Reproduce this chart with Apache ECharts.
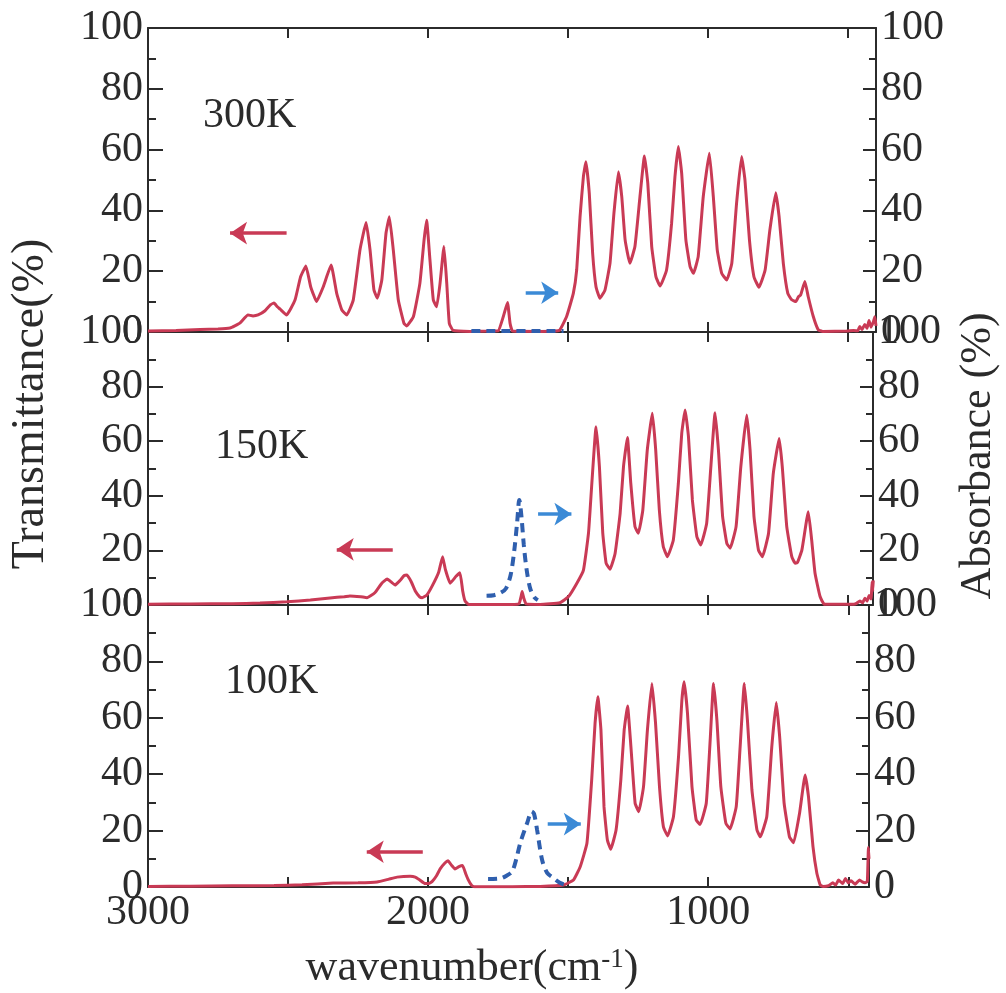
<!DOCTYPE html>
<html>
<head>
<meta charset="utf-8">
<script src="https://cdn.jsdelivr.net/npm/echarts@6/dist/echarts.min.js"></script>
<style>
    html, body { margin: 0; padding: 0; background: #fff; }
    #spectra { width: 1006px; height: 993px; }
</style>
</head>
<body>
<div id="spectra"></div>
<script>
// 温度标签
var temps = ['300K', '150K', '100K'];

// x 轴刻度（wavenumber）
var xTicks = [3000, 2500, 2000, 1500, 1000, 500];
var xTickLabels = [3000, 2000, 1000];
var yTicks = [0, 20, 40, 60, 80, 100];

// 300K 红线 [wavenumber, %]
var red300 = [
    [3000, 0.3], [2900, 0.5], [2814, 0.8], [2750, 1.0], [2707, 1.3], [2690, 2.0], [2671, 3.0], [2643, 5.6],
    [2625, 5.3], [2607, 5.6], [2582, 7.0], [2562, 9.0], [2550, 9.5], [2538, 8.3], [2528, 7.5], [2505, 5.6],
    [2475, 10.5], [2455, 18.2], [2436, 21.7], [2419, 14.9], [2398, 10.0], [2374, 14.9], [2346, 22.0], [2326, 12.7],
    [2308, 7.3], [2290, 5.6], [2267, 10.5], [2243, 27.0], [2221, 36.0], [2207, 27.0], [2193, 13.8], [2181, 11.1],
    [2165, 17.1], [2150, 32.5], [2138, 37.9], [2124, 27.0], [2106, 10.5], [2086, 2.9], [2076, 2.0], [2052, 5.1],
    [2029, 16.0], [2014, 30.3], [2005, 36.8], [1993, 23.7], [1981, 10.5], [1969, 8.3], [1957, 16.0], [1943, 28.1],
    [1933, 16.0], [1924, 2.9], [1910, 0.5], [1850, 0.2], [1780, 0.3], [1749, 0.4], [1731, 5.1], [1716, 9.7],
    [1707, 2.9], [1698, 0.3], [1600, 0.2], [1545, 0.3],
    [1529, 0.7], [1505, 5.1], [1481, 12.7], [1469, 20.4], [1457, 37.9], [1445, 51.1], [1436, 56.0], [1424, 45.6],
    [1412, 25.9], [1400, 14.9], [1386, 11.1], [1368, 13.8], [1350, 22.6], [1336, 39.0], [1320, 52.7], [1308, 44.5],
    [1296, 30.3], [1279, 22.6], [1261, 28.1], [1243, 44.5], [1227, 57.9], [1215, 48.9], [1201, 28.1], [1186, 18.2],
    [1171, 15.1], [1148, 20.4], [1130, 35.8], [1118, 51.1], [1106, 61.0], [1094, 52.2], [1079, 30.3], [1064, 21.5],
    [1052, 19.3], [1035, 24.8], [1017, 44.5], [995, 58.8], [981, 44.5], [967, 27.0], [951, 19.3], [933, 17.1],
    [915, 22.6], [898, 42.3], [880, 57.7], [868, 50.0], [852, 30.3], [836, 18.2], [818, 14.7], [796, 20.4],
    [779, 33.6], [758, 45.8], [746, 37.9], [731, 22.6], [715, 12.7], [701, 10.6], [686, 10.0], [677, 11.6],
    [669, 12.2], [654, 16.6], [642, 11.6], [624, 5.1], [606, 0.7], [590, 0.2],
    [505, 0.3], [480, 0.5], [465, 0.4], [458, 1.8], [450, 0.8], [440, 2.5], [432, 1.2], [425, 3.8],
    [418, 1.6], [410, 3.2], [404, 5.0], [400, 2.0]
];
// 300K 蓝色虚线
var blue300 = [[1845, 0.3], [1516, 0.3]];

// 150K
var red150 = [
    [3000, 0.3], [2850, 0.4], [2700, 0.5], [2600, 0.7], [2504, 1.2], [2420, 1.8], [2350, 2.6], [2300, 3.0],
    [2279, 3.3], [2240, 3.0], [2218, 2.7], [2190, 4.5], [2165, 8.0], [2146, 9.5], [2130, 8.3], [2118, 7.3],
    [2100, 9.0], [2085, 10.8], [2075, 11.0], [2060, 8.5], [2045, 5.0], [2030, 3.0], [2021, 2.7], [2004, 3.7],
    [1985, 7.0], [1962, 12.0], [1948, 17.7], [1938, 13.0], [1921, 8.0], [1900, 10.5], [1886, 11.8], [1876, 5.0],
    [1868, 1.5], [1855, 0.2], [1700, 0.2], [1675, 0.5], [1668, 3.0], [1664, 4.9], [1658, 2.5], [1650, 0.4],
    [1600, 0.2],
    [1529, 0.8], [1499, 3.0], [1469, 7.9], [1445, 12.8], [1427, 26.3], [1415, 44.6], [1400, 65.3], [1388, 50.7],
    [1376, 26.3], [1364, 15.3], [1350, 13.1], [1332, 18.9], [1314, 33.6], [1302, 50.7], [1288, 61.4], [1276, 44.6],
    [1261, 28.7], [1249, 26.3], [1233, 34.8], [1217, 56.8], [1199, 70.2], [1187, 56.8], [1174, 34.8], [1160, 21.4],
    [1145, 17.7], [1124, 23.8], [1106, 44.6], [1094, 62.9], [1082, 71.4], [1070, 61.7], [1056, 38.5], [1040, 25.0],
    [1026, 22.0], [1005, 29.9], [990, 50.7], [975, 70.4], [963, 56.8], [948, 32.4], [933, 22.6], [921, 20.8],
    [900, 28.7], [883, 50.7], [862, 69.6], [850, 56.8], [836, 32.4], [820, 20.1], [806, 17.7], [784, 26.3],
    [767, 48.2], [746, 61.0], [735, 50.7], [719, 28.7], [701, 17.7], [689, 15.3], [681, 15.5], [665, 20.1],
    [642, 34.2], [630, 23.8], [618, 11.6], [600, 3.1], [585, 0.3],
    [480, 0.3], [470, 0.6], [458, 1.5], [448, 0.8], [440, 2.5], [432, 1.4], [425, 3.5], [418, 2.2],
    [414, 8.5], [412, 5.0], [410, 9.0]
];
var blue150 = [
    [1791, 3.4], [1765, 3.6], [1740, 4.5], [1722, 6.0], [1705, 11.0], [1692, 20.0], [1682, 30.0], [1674, 38.5],
    [1666, 32.0], [1658, 22.0], [1648, 13.0], [1635, 6.0], [1620, 2.8], [1608, 1.8]
];

// 100K
var red100 = [
    [3000, 0.2], [2850, 0.3], [2700, 0.4], [2550, 0.5], [2450, 0.8], [2339, 1.4], [2250, 1.5], [2182, 1.8],
    [2140, 2.8], [2111, 3.5], [2064, 3.8], [2046, 3.5], [2030, 2.5], [2011, 1.2], [1998, 1.2], [1986, 1.9],
    [1970, 4.0], [1957, 6.4], [1940, 8.5], [1929, 9.3], [1915, 7.5], [1904, 6.4], [1890, 7.2], [1877, 7.6],
    [1865, 4.5], [1857, 2.6], [1845, 0.6], [1835, 0.1], [1700, 0.1], [1600, 0.2],
    [1517, 0.7], [1481, 2.5], [1457, 7.2], [1433, 15.5], [1416, 38.0], [1404, 58.0], [1394, 67.5], [1383, 55.7],
    [1372, 28.5], [1360, 16.7], [1348, 13.4], [1329, 20.2], [1312, 38.0], [1300, 55.7], [1288, 64.2], [1276, 49.8],
    [1261, 29.7], [1248, 26.7], [1231, 35.6], [1217, 55.7], [1201, 72.2], [1188, 58.0], [1174, 35.6], [1160, 21.4],
    [1145, 18.1], [1124, 25.0], [1106, 46.2], [1094, 66.3], [1086, 72.8], [1074, 61.6], [1058, 35.6], [1043, 23.8],
    [1029, 22.2], [1007, 29.7], [993, 52.1], [981, 72.2], [969, 59.2], [955, 35.6], [937, 22.6], [922, 20.6],
    [900, 28.5], [886, 49.8], [871, 72.2], [860, 59.2], [844, 34.4], [826, 20.2], [814, 17.8], [791, 24.9],
    [773, 49.8], [757, 65.4], [745, 53.3], [729, 29.7], [710, 17.8], [695, 15.7], [674, 26.1], [654, 39.7],
    [642, 32.0], [626, 14.3], [612, 4.8], [600, 0.7], [590, 0.2],
    [570, 0.5], [555, 1.5], [545, 0.7], [535, 2.5], [520, 1.2], [510, 3.0], [500, 1.5], [490, 2.2],
    [475, 1.0], [460, 2.5], [450, 1.8], [440, 1.5], [432, 2.0], [428, 14.0], [426, 10.0]
];
var blue100 = [
    [1786, 2.8], [1743, 3.0], [1720, 4.0], [1700, 5.5], [1685, 10.0], [1671, 15.6], [1646, 22.8], [1630, 26.8],
    [1622, 26.0], [1611, 20.3], [1593, 9.6], [1575, 5.0], [1554, 3.3], [1530, 1.5], [1511, 0.8]
];

// 箭头 [尾, 头, y]
var redArrows = [[2505, 2707, 32.5], [2126, 2326, 20.4], [2019, 2219, 12.5]];
var blueArrows = [[1651, 1535, 12.9], [1607, 1488, 33.3], [1573, 1455, 22.3]];

var redSets = [red300, red150, red100];
var blueSets = [blue300, blue150, blue100];

var FONT = 'Liberation Serif';
var INK = '#2b2b2b';
var RED = '#c93a55';
var BLUE_DASH = '#2f5fae';
var BLUE = '#3b8ad6';

// 三个面板的位置（扫描图每块右边界略有不同）
var panels = [
    { top: 28, height: 304, width: 728, xMin: 400 },
    { top: 332, height: 273, width: 725, xMin: 411 },
    { top: 605, height: 282, width: 721, xMin: 426 }
];

var myChart = echarts.init(document.getElementById('spectra'));

var grid = [], xAxis = [], yAxis = [], series = [];
var axisLine = { show: true, onZero: false, lineStyle: { color: INK, width: 2 } };
var tickStyle = { color: INK, width: 2 };

function arrowLine(a, color) {
    return {
        silent: true,
        animation: false,
        symbol: ['none', 'arrow'],
        symbolSize: 17,
        label: { show: false },
        lineStyle: { color: color, width: 3.5, type: 'solid' },
        emphasis: { disabled: true },
        data: [[{ coord: [a[0], a[2]] }, { coord: [a[1], a[2]] }]]
    };
}

for (var i = 0; i < panels.length; i++) {
    var p = panels[i];
    grid.push({ left: 148, top: p.top, width: p.width, height: p.height, outerBoundsMode: 'none' });

    // 下边 / 上边 x 轴
    ['bottom', 'top'].forEach(function (pos) {
        xAxis.push({
            gridIndex: i,
            type: 'value',
            position: pos,
            min: p.xMin,
            max: 3000,
            inverse: true,
            axisLine: axisLine,
            axisTick: { show: true, inside: true, length: 10, customValues: xTicks, lineStyle: tickStyle },
            axisLabel: {
                show: pos === 'bottom' && i === panels.length - 1,
                customValues: xTickLabels,
                formatter: function (v) { return String(v); },
                fontFamily: FONT, fontSize: 42, color: INK, margin: 5
            },
            splitLine: { show: false }
        });
    });

    // 左 / 右 y 轴
    ['left', 'right'].forEach(function (pos) {
        yAxis.push({
            gridIndex: i,
            type: 'value',
            position: pos,
            min: 0,
            max: 100,
            interval: 20,
            axisLine: axisLine,
            axisTick: { show: true, inside: true, length: pos === 'left' ? 15 : 13, lineStyle: tickStyle },
            minorTick: { show: true, splitNumber: 2, length: pos === 'left' ? 8 : 7, lineStyle: tickStyle },
            axisLabel: {
                fontFamily: FONT, fontSize: 42, color: INK, margin: 5,
                customValues: yTicks
            },
            splitLine: { show: false },
            minorSplitLine: { show: false }
        });
    });

    series.push({
        name: temps[i],
        type: 'line',
        xAxisIndex: 2 * i,
        yAxisIndex: 2 * i,
        data: redSets[i],
        symbol: 'none',
        smooth: 0.12,
        lineStyle: { color: RED, width: 3 },
        z: 2,
        markLine: arrowLine(redArrows[i], RED)
    });
    series.push({
        name: temps[i] + ' abs',
        type: 'line',
        xAxisIndex: 2 * i,
        yAxisIndex: 2 * i + 1,
        data: blueSets[i],
        symbol: 'none',
        smooth: 0.3,
        lineStyle: { color: BLUE_DASH, width: 4, type: [9, 6] },
        z: 3,
        markLine: arrowLine(blueArrows[i], BLUE)
    });
}

var textFont = function (size) { return size + 'px "' + FONT + '"'; };

var option = {
    animation: false,
    backgroundColor: '#fff',
    grid: grid,
    xAxis: xAxis,
    yAxis: yAxis,
    series: series,
    graphic: [
        { type: 'text', x: 203, y: 116, style: { text: temps[0], font: textFont(42), fill: INK, verticalAlign: 'middle' } },
        { type: 'text', x: 215, y: 447, style: { text: temps[1], font: textFont(42), fill: INK, verticalAlign: 'middle' } },
        { type: 'text', x: 225, y: 682, style: { text: temps[2], font: textFont(42), fill: INK, verticalAlign: 'middle' } },
        {
            type: 'text', x: 31, y: 404, rotation: Math.PI / 2,
            style: { text: 'Transmittance(%)', font: textFont(46), fill: INK, align: 'center', verticalAlign: 'middle' }
        },
        {
            type: 'text', x: 978, y: 456, rotation: Math.PI / 2,
            style: { text: 'Absorbance (%)', font: textFont(44), fill: INK, align: 'center', verticalAlign: 'middle' }
        },
        {
            type: 'text', x: 472, y: 968,
            style: {
                text: '{a|wavenumber(cm}{s|-1}{a|)}',
                align: 'center', verticalAlign: 'middle',
                rich: {
                    a: { fontFamily: FONT, fontSize: 44, fill: INK },
                    s: { fontFamily: FONT, fontSize: 27, fill: INK, verticalAlign: 'top' }
                }
            }
        }
    ]
};

myChart.setOption(option);
</script>
</body>
</html>
